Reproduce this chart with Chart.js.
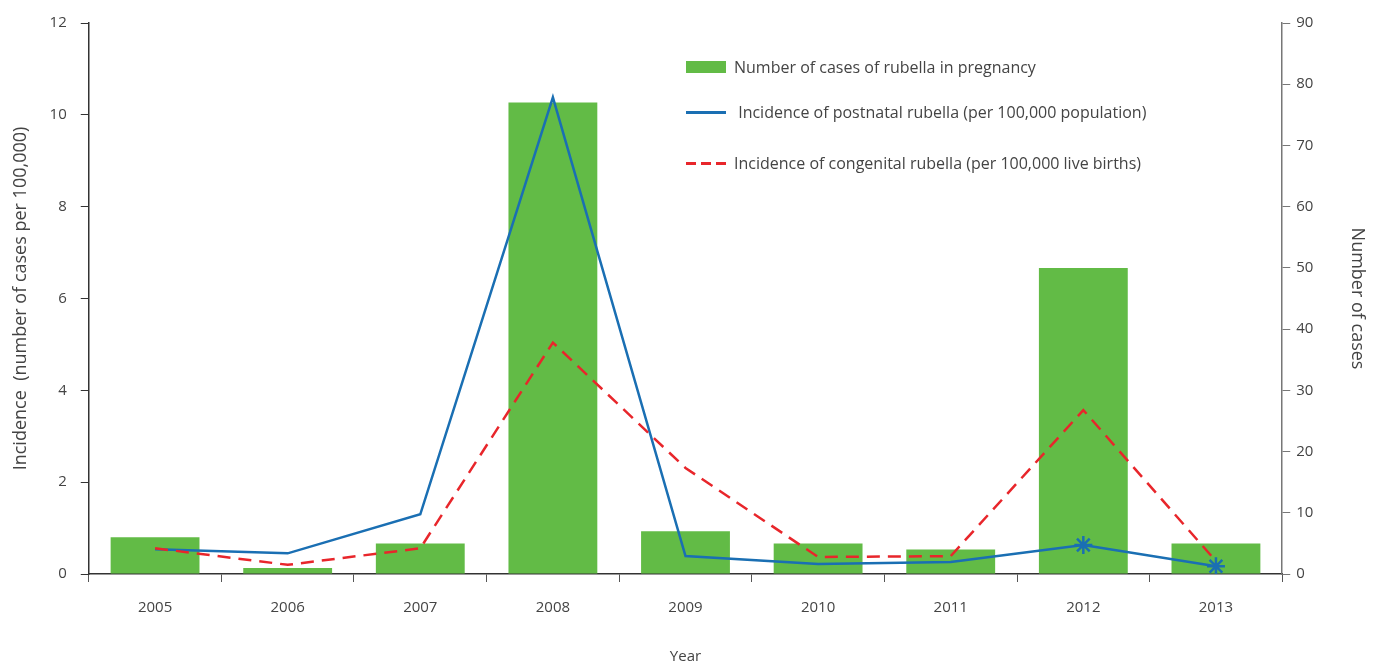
<!DOCTYPE html>
<html lang="en">
<head>
    <meta charset="UTF-8" />
    <title>Rubella incidence 2005-2013</title>
    <script src="https://cdn.jsdelivr.net/npm/chart.js"></script>
    <style>
        body {
            margin: 0;
            padding: 0;
            background: #ffffff;
            font-family: "Open Sans", Arial, sans-serif;
        }

        .chart-container {
            position: relative;
            width: 1381px;
            height: 664px;
        }

        .legend {
            position: absolute;
            left: 686px;
            top: 55px;
            color: #444;
            font-size: 16px;
        }

        .legend-row {
            display: flex;
            align-items: center;
            height: 24px;
        }

        .legend-row .swatch {
            width: 40px;
            margin-right: 8px;
        }

        .dashed {
            height: 3px;
            background: repeating-linear-gradient(to right, #e8262b 0 10px, transparent 10px 15px);
        }
    </style>
</head>
<body>
    <div class="chart-container">
        <canvas id="rubellaChart" width="1381" height="664"></canvas>
        <div class="legend">
            <div class="legend-row" style="margin-bottom:21px"><span class="swatch" style="height:12px;background:#62bb46"></span>Number of cases of rubella in pregnancy</div>
            <div class="legend-row" style="margin-bottom:27px"><span class="swatch" style="height:3px;background:#1a6fb3"></span>&nbsp;Incidence of postnatal rubella (per 100,000 population)</div>
            <div class="legend-row"><span class="swatch dashed"></span>Incidence of congenital rubella (per 100,000 live births)</div>
        </div>
    </div>

    <script>
        const years = ['2005', '2006', '2007', '2008', '2009', '2010', '2011', '2012', '2013'];
        const pregnancyCases = [6, 1, 5, 77, 7, 5, 4, 50, 5];
        const postnatalIncidence = [0.54, 0.45, 1.3, 10.38, 0.39, 0.22, 0.26, 0.63, 0.17];
        const congenitalIncidence = [0.56, 0.2, 0.56, 5.04, 2.31, 0.37, 0.39, 3.57, 0.28];
        // star markers only on the last two years
        const postnatalMarkers = [0, 0, 0, 0, 0, 0, 0, 9, 9];

        const textColor = '#444';
        const font = { family: '"Open Sans", Arial, sans-serif', size: 15 };

        const ctx = document.getElementById('rubellaChart').getContext('2d');

        new Chart(ctx, {
            data: {
                labels: years,
                datasets: [
                    {
                        type: 'line',
                        label: 'Incidence of postnatal rubella (per 100,000 population)',
                        data: postnatalIncidence,
                        yAxisID: 'y',
                        borderColor: '#1a6fb3',
                        backgroundColor: '#1a6fb3',
                        borderWidth: 2.5,
                        pointStyle: 'star',
                        pointRadius: postnatalMarkers,
                        pointBorderWidth: 2.5,
                        pointBorderColor: '#1a6fb3',
                        tension: 0,
                        order: 1
                    },
                    {
                        type: 'line',
                        label: 'Incidence of congenital rubella (per 100,000 live births)',
                        data: congenitalIncidence,
                        yAxisID: 'y',
                        borderColor: '#e8262b',
                        borderWidth: 2.5,
                        borderDash: [13, 8],
                        pointRadius: 0,
                        tension: 0,
                        order: 0
                    },
                    {
                        type: 'bar',
                        label: 'Number of cases of rubella in pregnancy',
                        data: pregnancyCases,
                        yAxisID: 'y1',
                        backgroundColor: '#62bb46',
                        categoryPercentage: 1,
                        barPercentage: 0.67,
                        order: 2
                    }
                ]
            },
            options: {
                responsive: false,
                animation: false,
                layout: {
                    padding: { top: 4, right: 0, bottom: 0, left: 10 }
                },
                plugins: {
                    legend: { display: false },
                    tooltip: { enabled: false }
                },
                scales: {
                    x: {
                        offset: true,
                        grid: {
                            offset: true,
                            drawOnChartArea: false,
                            drawTicks: true,
                            tickLength: 8,
                            color: '#555'
                        },
                        border: { color: '#333', width: 1.5 },
                        ticks: { color: textColor, font: font, padding: 17 },
                        title: {
                            display: true,
                            text: 'Year',
                            color: textColor,
                            font: { family: font.family, size: 15, lineHeight: 1 },
                            padding: { top: 15, bottom: 0 }
                        }
                    },
                    y: {
                        position: 'left',
                        min: 0,
                        max: 12,
                        ticks: { stepSize: 2, color: textColor, font: font, padding: 14 },
                        grid: { drawOnChartArea: false, tickLength: 8, color: '#333' },
                        border: { color: '#333', width: 1.5 },
                        title: {
                            display: true,
                            text: 'Incidence  (number of cases per 100,000)',
                            color: textColor,
                            font: { family: font.family, size: 18 },
                            padding: { top: 0, bottom: 4 }
                        }
                    },
                    y1: {
                        position: 'right',
                        min: 0,
                        max: 90,
                        ticks: { stepSize: 10, color: textColor, font: font, padding: 6 },
                        grid: { drawOnChartArea: false, tickLength: 8, color: '#777' },
                        border: { color: '#777', width: 1.5 },
                        title: {
                            display: true,
                            text: 'Number of cases',
                            color: textColor,
                            font: { family: font.family, size: 18 },
                            padding: { top: 13, bottom: 27 }
                        }
                    }
                }
            }
        });
    </script>
</body>
</html>
